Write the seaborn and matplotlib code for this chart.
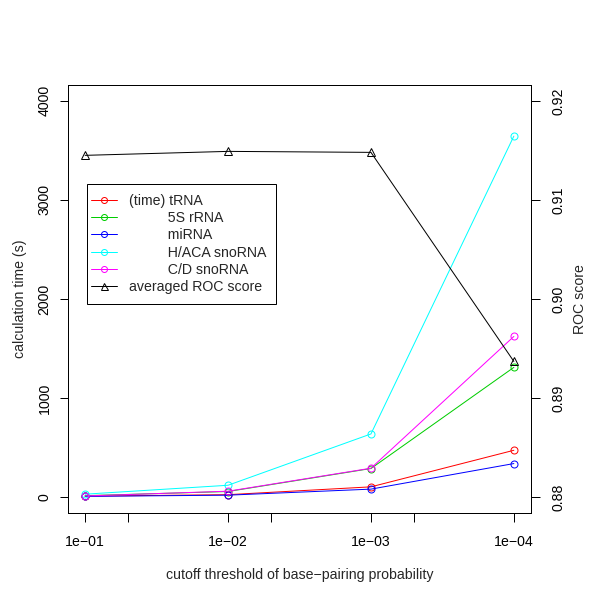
import matplotlib
matplotlib.use('Agg')
import matplotlib.pyplot as plt
import seaborn as sns
from matplotlib.lines import Line2D
from matplotlib.patches import Rectangle

# data
thresholds = [1e-1, 1e-2, 1e-3, 1e-4]
tick_labels = ['1e\u221201', '1e\u221202', '1e\u221203', '1e\u221204']
time_trna = [10, 25, 104, 473]
time_5s = [15, 57, 289, 1310]
time_mirna = [8, 20, 81, 339]
time_haca = [30, 120, 638, 3644]
time_cd = [12, 60, 292, 1622]
roc_avg = [0.9145, 0.9149, 0.9148, 0.8937]
series_labels = ['(time) tRNA', '          5S rRNA', '          miRNA',
                 '          H/ACA snoRNA', '          C/D snoRNA']
roc_label = 'averaged ROC score'
colors = ['#FF0000', '#00CD00', '#0000FF', '#00FFFF', '#FF00FF']

sns.set_theme(style='white')
plt.rcParams['font.family'] = ['Liberation Sans', 'DejaVu Sans']
fs = 10.2
px = 0.72  # points per pixel at dpi 100

fig = plt.figure(figsize=(6, 6), dpi=100)
W = H = 600
ax = fig.add_axes([68 / W, (H - 513) / H, 463 / W, 428 / H])
ax2 = ax.twinx()

times = [time_trna, time_5s, time_mirna, time_haca, time_cd]
for vals, col in zip(times, colors):
    sns.lineplot(x=thresholds, y=vals, ax=ax, color=col, linewidth=1 * px,
                 marker='o', markersize=7 * px, markerfacecolor='none',
                 markeredgecolor=col, markeredgewidth=1 * px)

sns.lineplot(x=thresholds, y=roc_avg, ax=ax2, color='black', linewidth=1 * px,
             marker='^', markersize=8.5 * px, markerfacecolor='none',
             markeredgecolor='black', markeredgewidth=1 * px)

ax.set_xscale('log')
ax.set_xlim(10 ** -0.88, 10 ** -4.12)
ax.set_ylim(-160, 4160)
ax2.set_ylim(0.8784, 0.9216)

ax.set_xticks(thresholds + [5e-2, 5e-3, 5e-4],
              labels=tick_labels + ['', '', ''])
ax.minorticks_off()
ax.set_yticks([0, 1000, 2000, 3000, 4000],
              labels=['0', '1000', '2000', '3000', '4000'])
ax2.set_yticks([0.88, 0.89, 0.90, 0.91, 0.92],
               labels=['0.88', '0.89', '0.90', '0.91', '0.92'])

tick_len = 8.5 * px
ax.tick_params(axis='x', direction='out', length=tick_len, width=1 * px,
               pad=13 * px, labelsize=fs, colors='black', bottom=True)
ax.tick_params(axis='y', direction='out', length=tick_len, width=1 * px,
               pad=8 * px, labelsize=fs, colors='black', left=True)
ax2.tick_params(axis='y', direction='out', length=tick_len, width=1 * px,
                pad=12 * px, labelsize=fs, colors='black', right=True)
for lab in ax.get_yticklabels() + ax2.get_yticklabels():
    lab.set_rotation(90)
    lab.set_va('center')

for a in (ax, ax2):
    for s in a.spines.values():
        s.set_color('black')
        s.set_linewidth(1 * px)

ax.set_xlabel('cutoff threshold of base\u2212pairing probability', fontsize=fs)
ax.xaxis.set_label_coords((299.5 - 68) / 463, (513 - 575) / 428)
ax.xaxis.label.set_va('center')
ax.set_ylabel('calculation time (s)', fontsize=fs)
ax.yaxis.set_label_coords((20 - 68) / 463, 0.5)
ax.yaxis.label.set_va('center')
ax2.set_ylabel('ROC score', fontsize=fs)
ax2.yaxis.set_label_coords((580 - 68) / 463, 0.5)
ax2.yaxis.label.set_va('center')
ax2.yaxis.label.set_rotation(90)

# legend frame (R style: more padding top/bottom than left/right)
fig.add_artist(Rectangle((86.7 / W, 1 - 304 / H), (276 - 86.7) / W, 120 / H,
                         transform=fig.transFigure, facecolor='white',
                         edgecolor='black', linewidth=1 * px, zorder=3))

handles = [Line2D([], [], color=c, linewidth=1 * px, marker='o',
                  markersize=6 * px, markerfacecolor='none',
                  markeredgewidth=1 * px) for c in colors]
handles.append(Line2D([], [], color='black', linewidth=1 * px, marker='^',
                      markersize=7 * px, markerfacecolor='none',
                      markeredgewidth=1 * px))
leg = fig.legend(handles, series_labels + [roc_label], loc='upper left',
                 bbox_to_anchor=(90.7 / W, 1 - 194 / H),
                 bbox_transform=fig.transFigure, fontsize=fs,
                 frameon=False, borderpad=0, labelspacing=0.225,
                 handlelength=1.83, handletextpad=0.89, borderaxespad=0)
leg.set_zorder(4)

fig.savefig('out.png', dpi=100)
